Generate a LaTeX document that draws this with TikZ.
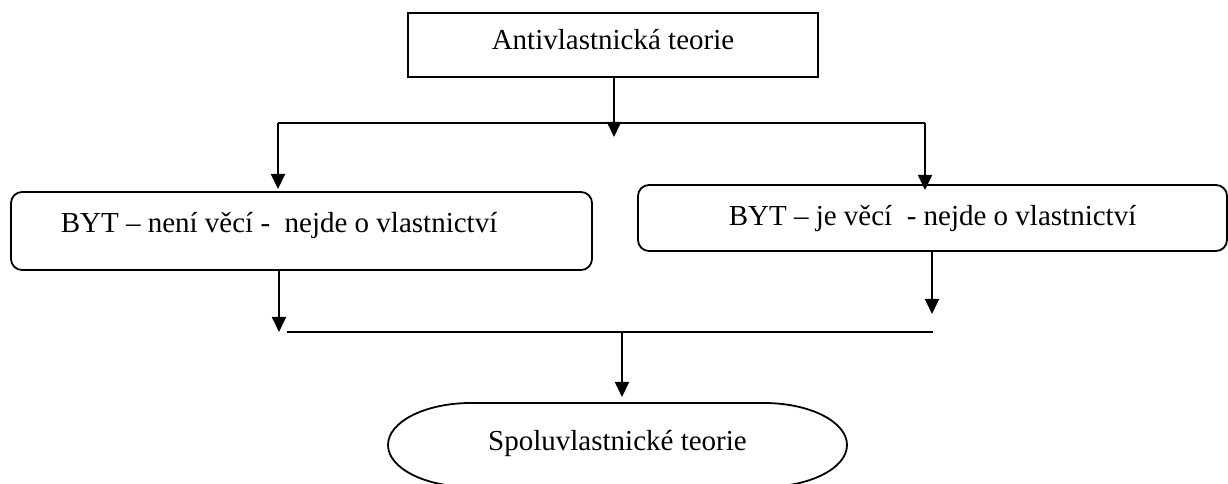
\documentclass[tikz,border=0pt]{standalone}
\usepackage{fontspec}
\setmainfont{Liberation Serif}
\usetikzlibrary{arrows.meta}
\tikzset{
  box/.style={draw, line width=1.8pt, inner sep=0pt, font=\fontsize{29pt}{34pt}\selectfont},
  rbox/.style={box, rounded corners=11pt},
  conn/.style={line width=1.8pt},
  arr/.style={conn, -{Triangle[width=14pt,length=15pt]}},
  txt/.style={inner sep=0pt, font=\fontsize{29pt}{34pt}\selectfont}
}
\begin{document}
\begin{tikzpicture}[x=1pt,y=1pt]
\useasboundingbox (0,0) rectangle (1228,484);
% boxes
\node[box, minimum width=410pt, minimum height=64pt, text height=20pt, text depth=10pt]
  (top) at (613,439) {Antivlastnická teorie};
\node[rbox, minimum width=581pt, minimum height=78pt, text height=20pt, text depth=16pt]
  (left) at (301.5,253) {BYT – není věcí -\ \ nejde o vlastnictví\hspace*{45pt}};
\node[rbox, minimum width=589pt, minimum height=66pt, text height=22pt, text depth=6pt]
  (right) at (932.5,266) {BYT – je věcí \ - nejde o vlastnictví};
% bottom terminator
\node[txt, anchor=base] (spolu) at (617.5,33) {Spoluvlastnické teorie};
\draw[conn] (471,81) -- (764,81)
  arc[start angle=90, end angle=-90, x radius=83, y radius=42]
  -- (471,-3)
  arc[start angle=270, end angle=90, x radius=83, y radius=42] -- cycle;
% junction coordinates
\coordinate (hl) at (278,361);
\coordinate (hr) at (925,361);
\coordinate (tc) at (614,347);
\coordinate (tl) at (278,295);
\coordinate (tr) at (925,294);
\coordinate (bl) at (279,152);
\coordinate (bs) at (287,152);
\coordinate (be) at (933,152);
\coordinate (br) at (932,170);
\coordinate (bc) at (622,152);
\coordinate (bt) at (622,87);
% connectors
\draw[arr] (top.south -| tc) -- (tc);
\draw[conn] (hl) -- (hr);
\draw[arr] (hl) -- (tl);
\draw[arr] (hr) -- (tr);
\draw[arr] (left.south -| bl) -- (bl);
\draw[conn] (bs) -- (be);
\draw[arr] (right.south -| br) -- (br);
\draw[arr] (bc) -- (bt);
\end{tikzpicture}
\end{document}
